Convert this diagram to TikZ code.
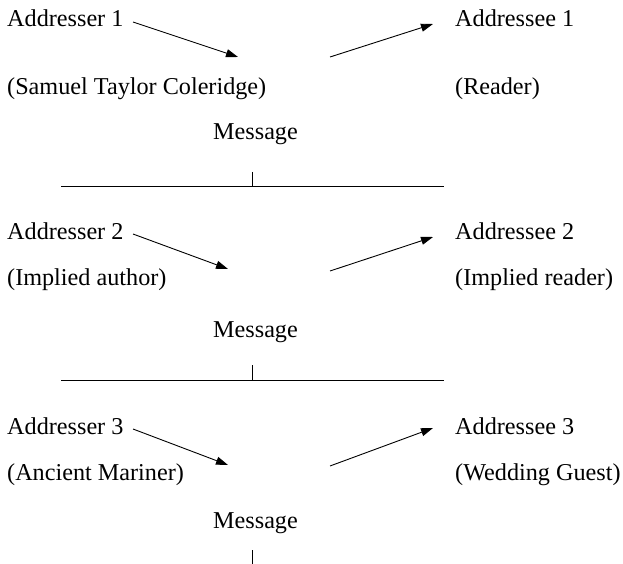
\documentclass[tikz,border=0pt]{standalone}
\usepackage{fontspec}
\setmainfont{Liberation Serif}
\usetikzlibrary{arrows.meta}
\begin{document}
\begin{tikzpicture}[x=1pt,y=-1pt,
  lbl/.style={anchor=base west,inner sep=0pt,font=\fontsize{24.2}{28}\selectfont},
  msg/.style={anchor=base,inner sep=0pt,font=\fontsize{24.2}{28}\selectfont},
  arr/.style={line width=0.9pt,-{Triangle[length=12pt,width=8pt]}},
  rule/.style={line width=0.9pt}]
\useasboundingbox (0,0) rectangle (623,564);
% Block 1
\node[lbl] (r1) at (7,27) {Addresser 1};
\node[lbl] (r1n) at (7,95) {(Samuel Taylor Coleridge)};
\node[lbl] (e1) at (455,27) {Addressee 1};
\node[lbl] (e1n) at (455,95) {(Reader)};
\node[msg] (m1) at (255.5,140) {Message};
\coordinate (a1s) at (133,22);
\coordinate (a1e) at (238,57);
\coordinate (b1s) at (330,57);
\coordinate (b1e) at (433,24);
\draw[arr] (a1s) -- (a1e);
\draw[arr] (b1s) -- (b1e);
\coordinate (l1a) at (61,186.5);
\coordinate (l1b) at (444,186.5);
\coordinate (t1a) at (252,172);
\coordinate (t1b) at (252,186.5);
\draw[rule] (l1a) -- (l1b);
\draw[rule] (t1a) -- (t1b);
% Block 2
\node[lbl] (r2) at (7,239) {Addresser 2};
\node[lbl] (r2n) at (7,285) {(Implied author)};
\node[lbl] (e2) at (455,239) {Addressee 2};
\node[lbl] (e2n) at (455,285) {(Implied reader)};
\node[msg] (m2) at (255.5,337) {Message};
\coordinate (a2s) at (133,234);
\coordinate (a2e) at (228,269);
\coordinate (b2s) at (330,271);
\coordinate (b2e) at (433,237);
\draw[arr] (a2s) -- (a2e);
\draw[arr] (b2s) -- (b2e);
\coordinate (l2a) at (61,380);
\coordinate (l2b) at (444,380);
\coordinate (t2a) at (252,365);
\coordinate (t2b) at (252,380);
\draw[rule] (l2a) -- (l2b);
\draw[rule] (t2a) -- (t2b);
% Block 3
\node[lbl] (r3) at (7,434) {Addresser 3};
\node[lbl] (r3n) at (7,480) {(Ancient Mariner)};
\node[lbl] (e3) at (455,434) {Addressee 3};
\node[lbl] (e3n) at (455,480) {(Wedding Guest)};
\node[msg] (m3) at (255.5,528) {Message};
\coordinate (a3s) at (133,429);
\coordinate (a3e) at (228,465);
\coordinate (b3s) at (330,466);
\coordinate (b3e) at (433,428);
\draw[arr] (a3s) -- (a3e);
\draw[arr] (b3s) -- (b3e);
\coordinate (t3a) at (252,550);
\coordinate (t3b) at (252,564);
\draw[rule] (t3a) -- (t3b);
\end{tikzpicture}
\end{document}
